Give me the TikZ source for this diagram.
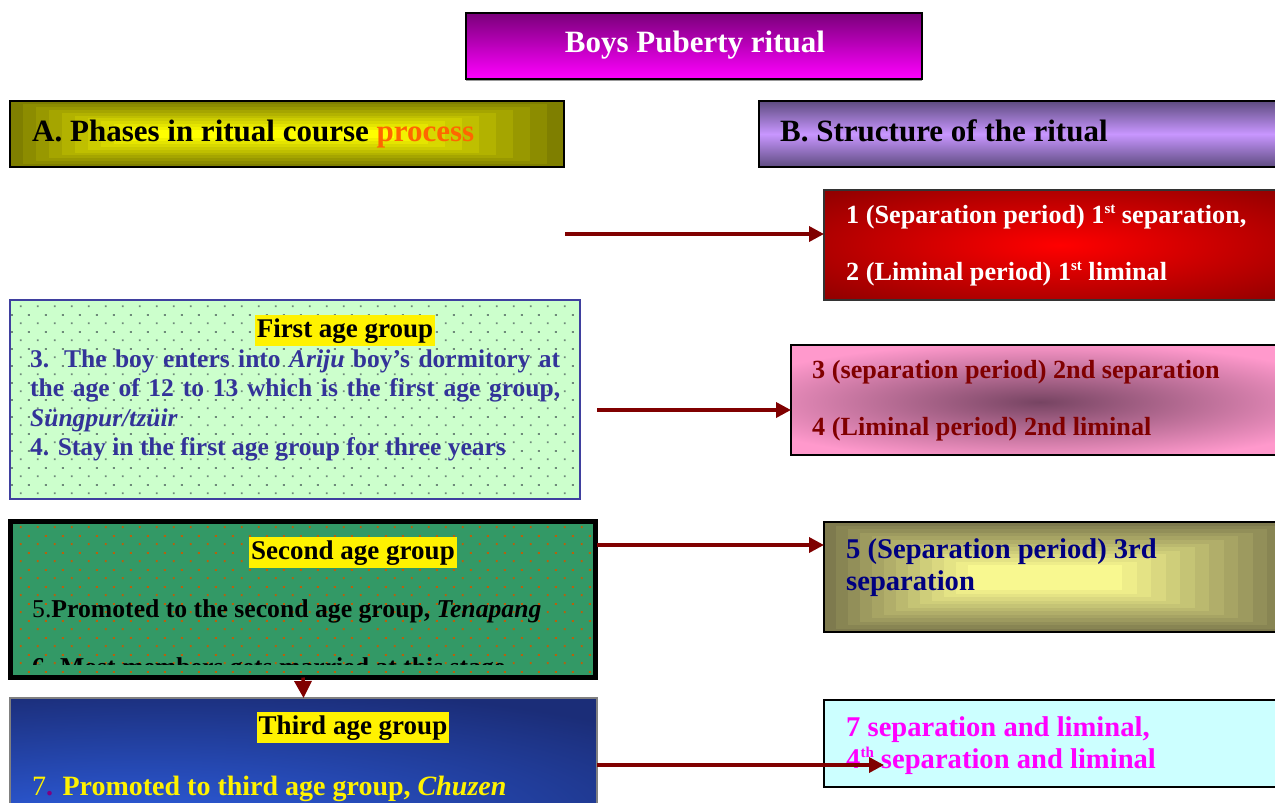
\documentclass[tikz,border=0pt]{standalone}
\usepackage{fontspec}
\setmainfont{Liberation Serif}
\usetikzlibrary{arrows.meta,patterns.meta}

\definecolor{arrowred}{HTML}{800000}
\definecolor{oliveA}{HTML}{7F7F00}
\definecolor{yellowA}{HTML}{FFFF00}
\definecolor{titletop}{HTML}{7A007A}
\definecolor{titlebot}{HTML}{FF00FF}
\definecolor{bdark}{HTML}{5E4C80}
\definecolor{blight}{HTML}{C896FF}
\definecolor{redcore}{HTML}{FF0000}
\definecolor{reddark}{HTML}{7A0000}
\definecolor{mintfill}{HTML}{CCFFCC}
\definecolor{mintdots}{HTML}{6E8A7A}
\definecolor{firstborder}{HTML}{3F3F9F}
\definecolor{firsttext}{HTML}{333399}
\definecolor{pinkfill}{HTML}{FF99CC}
\definecolor{pinkcore}{HTML}{764462}
\definecolor{seagreen}{HTML}{339966}
\definecolor{orangedots}{HTML}{B8600C}
\definecolor{navyblue}{HTML}{1B2D78}
\definecolor{brightblue}{HTML}{2F63EA}
\definecolor{olivefive}{HTML}{7E7A4E}
\definecolor{yellowfive}{HTML}{F8F890}
\definecolor{navytext}{HTML}{000080}
\definecolor{cyanfill}{HTML}{CCFFFF}
\definecolor{magentatext}{HTML}{FF00FF}
\definecolor{processorange}{HTML}{FF6600}
\definecolor{dotpurple}{HTML}{800080}

\pgfdeclareradialshading{redglow}{\pgfpoint{0bp}{0bp}}{color(0bp)=(redcore); color(42bp)=(reddark); color(100bp)=(reddark)}
\pgfdeclareradialshading{blueglow}{\pgfpoint{-18bp}{-35bp}}{color(0bp)=(brightblue); color(48bp)=(navyblue); color(100bp)=(navyblue)}

\tikzdeclarepattern{
  name=stagdots,
  type=uncolored,
  bounding box={(0pt,0pt) and (17pt,17pt)},
  tile size={(17pt,17pt)},
  code={
    \pgfpathrectangle{\pgfpoint{3.1pt}{3.1pt}}{\pgfpoint{1.9pt}{1.9pt}}
    \pgfpathrectangle{\pgfpoint{11.6pt}{11.6pt}}{\pgfpoint{1.9pt}{1.9pt}}
    \pgfusepath{fill}
  }
}

\newcommand\mysup[1]{\raisebox{0.38em}{\fontsize{15}{15}\selectfont #1}}

\tikzset{
  box/.style={rectangle, inner sep=0pt, outer sep=0pt, anchor=north west},
  conn/.style={draw=arrowred, line width=3.5pt, -{Triangle[length=15pt,width=15pt]}},
  head/.style={font=\bfseries\fontsize{31}{36}\selectfont, anchor=base west, inner sep=0pt},
  hl/.style={fill=yellow, inner xsep=2pt, inner ysep=3pt, text=black, font=\bfseries\fontsize{27}{32}\selectfont, anchor=base},
  bodyA/.style={font=\bfseries\fontsize{25.5}{30}\selectfont, text=firsttext, anchor=base west, inner sep=0pt},
  bodyB/.style={font=\bfseries\fontsize{25.7}{30}\selectfont, text=black, anchor=base west, inner sep=0pt},
  bodyC/.style={font=\bfseries\fontsize{28}{32}\selectfont, text=yellow, anchor=base west, inner sep=0pt},
  rtxt/.style={font=\bfseries\fontsize{26.2}{30}\selectfont, anchor=base west, inner sep=0pt},
  rtxtbig/.style={font=\bfseries\fontsize{28.6}{32}\selectfont, anchor=base west, inner sep=0pt},
}

\begin{document}
\begin{tikzpicture}[x=1pt,y=-1pt]
\path[use as bounding box, clip] (0,0) rectangle (1275,803);
\fill[white] (0,0) rectangle (1275,803);

% ---------- title ----------
\node[box, draw=black, line width=1.5pt, top color=titletop, bottom color=titlebot,
      minimum width=456pt, minimum height=66pt] (title) at (466,13) {};
\draw[black!40, line width=1pt] ([yshift=-1.5pt]title.south west) -- ([yshift=-1.5pt]title.south east);
\node[head, anchor=base, text=white] (titletxt) at (695,52) {Boys Puberty ritual};

% ---------- A header ----------
\node[box, draw=black, line width=2pt, fill=oliveA,
      minimum width=554pt, minimum height=66pt] (Abox) at (10,101) {};
\foreach \i in {1,...,10}{
  \pgfmathsetmacro\p{\i*10}
  \fill[yellowA!\p!oliveA] (10+\i*13,101+\i*2.9) rectangle (564-\i*17,167-\i*2.9);
}
\node[head] (Atxt) at (32,141) {A. Phases in ritual course \textcolor{processorange}{process}};

% ---------- B header ----------
\node[box, draw=black, line width=1.5pt, top color=bdark, bottom color=bdark, middle color=blight,
      minimum width=540pt, minimum height=66pt] (Bbox) at (759,101) {};
\node[head] (Btxt) at (780,141) {B. Structure of the ritual};

% ---------- box 1-2 ----------
\node[box, draw=black!80, line width=1.5pt, shading=redglow,
      minimum width=472pt, minimum height=110pt] (b12) at (824,190) {};
\node[rtxt, text=white] (b12a) at (846,223) {1 (Separation period) 1\mysup{st} separation,};
\node[rtxt, text=white] (b12b) at (846,280) {2 (Liminal period) 1\mysup{st} liminal};

% ---------- first age group ----------
\node[box, fill=mintfill,
      postaction={pattern=stagdots, pattern color=mintdots},
      postaction={draw=firstborder, line width=2pt},
      minimum width=570pt, minimum height=199pt] (first) at (10,300) {};
\node[hl] (firsthl) at (345,337) {First age group};
\node[bodyA] (f1) at (30,367) {\makebox[530pt][s]{3. The boy enters into \textit{Ariju} boy’s dormitory at}};
\node[bodyA] (f2) at (30,396) {\makebox[530pt][s]{the age of 12 to 13 which is the first age group,}};
\node[bodyA] (f3) at (30,426) {\textit{Süngpur/tzüir}};
\node[bodyA] (f4) at (30,455) {4. Stay in the first age group for three years};

% ---------- box 3-4 ----------
\node[box, fill=pinkfill, minimum width=505pt, minimum height=110pt] (b34) at (791,345) {};
\begin{scope}
  \clip (b34.north west) rectangle (b34.south east);
  \shade[inner color=pinkcore, outer color=pinkfill] (1040,402) ellipse [x radius=320, y radius=60];
\end{scope}
\draw[black, line width=1.5pt] (b34.north west) rectangle (b34.south east);
\node[rtxt, text=arrowred] (b34a) at (812,378) {3 (separation period) 2nd separation};
\node[rtxt, text=arrowred] (b34b) at (812,435) {4 (Liminal period) 2nd liminal};

% ---------- second age group ----------
\node[fill=seagreen, inner sep=0pt, outer sep=0pt,
      postaction={pattern=stagdots, pattern color=orangedots},
      postaction={draw=black, line width=5pt},
      minimum width=585pt, minimum height=156.5pt] (second) at (303,599.25) {};
\node[hl] (secondhl) at (353,559) {Second age group};
\node[bodyB] (s1) at (32,617) {{\mdseries 5.}Promoted to the second age group, \textit{Tenapang}};
\begin{scope}
  \clip (13,600) rectangle (593,664);
  \node[bodyB] (s2) at (32,675) {6. Most members gets married at this stage};
\end{scope}

% ---------- box 5 ----------
\node[box, draw=black, line width=1.5pt, fill=olivefive,
      minimum width=472pt, minimum height=110pt] (b5) at (824,522) {};
\foreach \i in {1,...,12}{
  \pgfmathsetmacro\p{\i*100/12}
  \fill[yellowfive!\p!olivefive] (824+\i*12,522+\i*3.6) rectangle (1296-\i*14.5,632-\i*3.5);
}
\node[rtxtbig, text=navytext] (b5a) at (846,558) {5 (Separation period) 3rd};
\node[rtxtbig, text=navytext] (b5b) at (846,590) {separation};

% ---------- third age group ----------
\node[box, draw=black!50, line width=1.5pt, shading=blueglow,
      minimum width=587pt, minimum height=120pt] (third) at (10,698) {};
\node[hl] (thirdhl) at (353,734) {Third age group};
\node[bodyC] (t1) at (32,795) {{\mdseries 7}{\color{dotpurple}.} Promoted to third age group, \textit{Chuzen}};

% ---------- box 7 ----------
\node[box, draw=black, line width=1.5pt, fill=cyanfill,
      minimum width=472pt, minimum height=87pt] (b7) at (824,700) {};
\node[rtxtbig, text=magentatext] (b7a) at (846,736) {7 separation and liminal,};
\node[rtxtbig, text=magentatext] (b7b) at (846,768) {4\mysup{th} separation and liminal};

% ---------- connectors ----------
\coordinate (c1) at (565,234);
\draw[conn] (c1) -- (c1 -| b12.west);
\coordinate (c2) at (597,410);
\draw[conn] (c2) -- (c2 -| b34.west);
\coordinate (c3) at (597,545);
\draw[conn] (c3) -- (c3 -| b5.west);
\coordinate (c4) at (884,765);
\draw[conn] (third.east |- c4) -- (c4);
\draw[conn, -{Triangle[length=17pt,width=17pt]}] (second.south) -- (third.north);
\end{tikzpicture}
\end{document}
